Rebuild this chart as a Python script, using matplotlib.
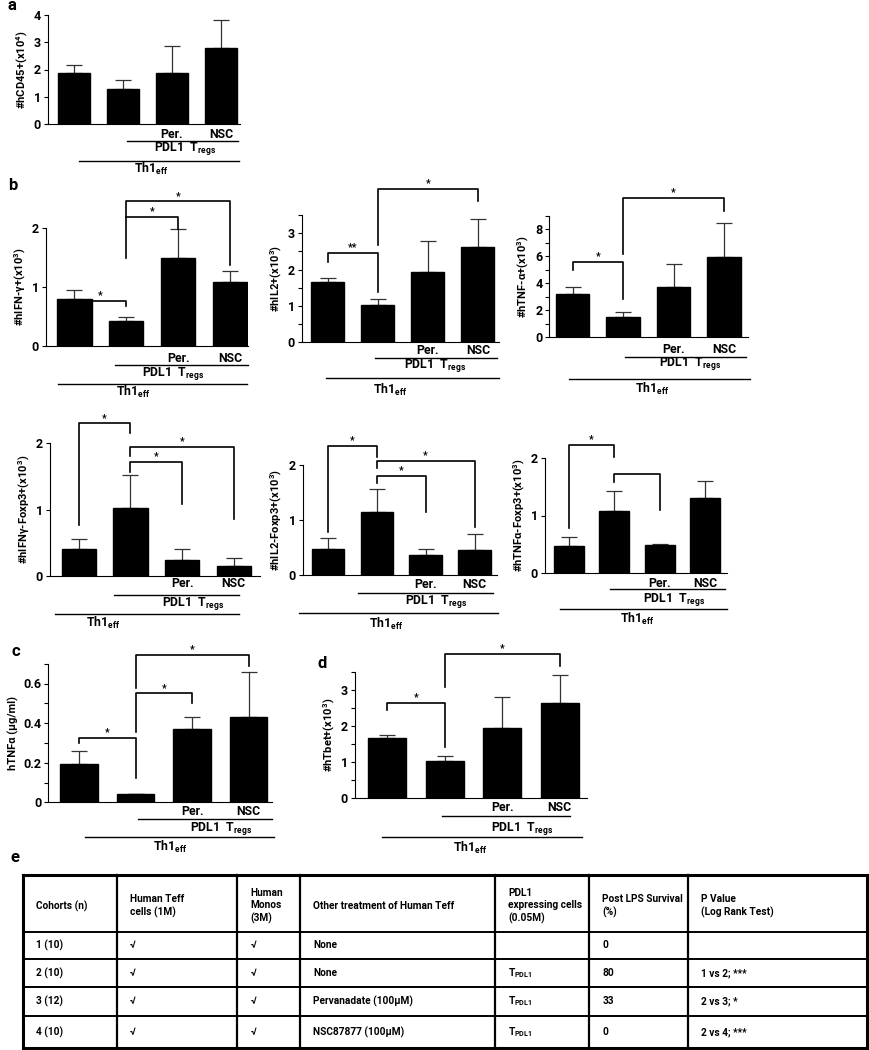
import numpy as np
import matplotlib.pyplot as plt
from matplotlib.lines import Line2D

FONT = 'Roboto'
plt.rcParams['font.family'] = [FONT, 'DejaVu Sans']
plt.rcParams['font.weight'] = 'bold'
plt.rcParams['axes.labelweight'] = 'bold'
plt.rcParams['mathtext.fontset'] = 'custom'
plt.rcParams['mathtext.rm'] = FONT + ':bold'
plt.rcParams['mathtext.bf'] = FONT + ':bold'
plt.rcParams['mathtext.it'] = FONT + ':bold'

W, H = 869, 1050

# ---- data (bar heights, upper error, significance brackets) ----
groups = ['', '', 'Per.', 'NSC']

a_vals = [1.88, 1.27, 1.88, 2.78]
a_err = [0.29, 0.36, 0.99, 1.04]

ifn_vals = [0.80, 0.43, 1.50, 1.08]
ifn_err = [0.15, 0.07, 0.48, 0.19]
il2_vals = [1.65, 1.02, 1.93, 2.63]
il2_err = [0.11, 0.15, 0.85, 0.77]
tnf_vals = [3.18, 1.53, 3.75, 5.97]
tnf_err = [0.57, 0.37, 1.68, 2.47]

ifn_fox_vals = [0.41, 1.02, 0.24, 0.14]
ifn_fox_err = [0.15, 0.50, 0.17, 0.12]
il2_fox_vals = [0.47, 1.15, 0.36, 0.45]
il2_fox_err = [0.20, 0.41, 0.12, 0.30]
tnf_fox_vals = [0.47, 1.07, 0.48, 1.30]
tnf_fox_err = [0.16, 0.36, 0.02, 0.30]

c_vals = [0.193, 0.040, 0.369, 0.432]
c_err = [0.067, 0.004, 0.061, 0.225]
d_vals = [1.65, 1.03, 1.93, 2.65]
d_err = [0.10, 0.14, 0.86, 0.77]

# brackets: (bar i, bar j, height, left leg end, right leg end, label)
ifn_br = [(0, 1, 0.76, 0.61, 0.67, '*'), (1, 2, 2.19, 1.49, 1.99, '*'), (1, 3, 2.45, 2.19, 1.37, '*')]
il2_br = [(0, 1, 2.45, 2.22, 1.39, '**'), (1, 3, 4.23, 2.68, 3.90, '*')]
tnf_br = [(0, 1, 5.6, 4.98, 2.81, '*'), (1, 3, 10.3, 6.17, 9.38, '*')]
ifn_fox_br = [(0, 1, 2.30, 0.77, 2.15, '*'), (1, 3, 1.94, 1.81, 0.85, '*'), (1, 2, 1.72, 1.57, 1.09, '*')]
il2_fox_br = [(0, 1, 2.35, 0.79, 2.15, '*'), (1, 3, 2.07, 1.94, 0.88, '*'), (1, 2, 1.80, 1.68, 1.15, '*')]
tnf_fox_br = [(0, 1, 2.24, 0.78, 2.03, '*'), (1, 2, 1.73, 1.59, 1.10, '')]
c_br = [(0, 1, 0.326, 0.30, 0.121, '*'), (1, 2, 0.55, 0.355, 0.503, '*'), (1, 3, 0.744, 0.576, 0.69, '*')]
d_br = [(0, 1, 2.63, 2.44, 1.40, '*'), (1, 3, 4.0, 3.09, 3.67, '*')]

# table
headers = ['Cohorts (n)', 'Human Teff\ncells (1M)', 'Human\nMonos\n(3M)', 'Other treatment of Human Teff',
           'PDL1\nexpressing cells\n(0.05M)', 'Post LPS Survival\n(%)', 'P Value\n(Log Rank Test)']
cohorts = ['1 (10)', '2 (10)', '3 (12)', '4 (10)']
teff = ['√', '√', '√', '√']
monos = ['√', '√', '√', '√']
treatment = ['None', 'None', 'Pervanadate (100µM)', 'NSC87877 (100µM)']
tpdl = r'T$_{\mathrm{PDL1}}$'
pdl_cells = ['', tpdl, tpdl, tpdl]
survival = ['0', '80', '33', '0']
pvalue = ['', '1 vs 2; ***', '2 vs 3; *', '2 vs 4; ***']

fig = plt.figure(figsize=(W / 100, H / 100), dpi=100)


def fx(x):
    return x / W


def fy(y):
    return 1 - y / H


def panel(box, xlim, ymax, vals, err, brackets, ylabel, major, minor, lay, labfmt=None):
    x0, yt, x1, yz = box
    ax = fig.add_axes([fx(x0), fy(yz), (x1 - x0) / W, (yz - yt) / H])
    xs = np.arange(len(vals))
    ax.bar(xs, vals, width=0.66, color='black', edgecolor='black', zorder=2)
    ax.errorbar(xs, vals, yerr=[np.zeros(len(err)), err], fmt='none', ecolor='#333333',
                elinewidth=0.9, capsize=5.5, capthick=0.9, zorder=1)
    for i, j, y, l, r, lab in brackets:
        ax.plot([i, i, j, j], [l, y, y, r], color='black', lw=1.2, clip_on=False)
        if lab:
            ax.annotate(lab, ((i + j) / 2, y), xytext=(0, 0.5), textcoords='offset points',
                        ha='center', va='bottom', fontsize=7.5, annotation_clip=False)
    ax.set_xlim(*xlim)
    ax.set_ylim(0, ymax)
    ax.set_yticks(major)
    if labfmt:
        ax.set_yticklabels([labfmt(v) for v in major])
    ax.set_yticks(minor, minor=True)
    ax.tick_params(axis='y', which='both', direction='out', length=3, width=0.8, labelsize=9, pad=2)
    ax.set_xticks(xs)
    pad = (lay['per'] - yz - 6) / 1.39
    ax.set_xticklabels(groups, fontsize=8.8)
    ax.tick_params(axis='x', length=0, pad=pad)
    for s in ['top', 'right']:
        ax.spines[s].set_visible(False)
    for s in ['left', 'bottom']:
        ax.spines[s].set_linewidth(0.8)
    ax.set_ylabel(ylabel, fontsize=8, labelpad=3)
    py, pa, pb = lay['pdl']
    ty, ta, tb = lay['th']
    fig.add_artist(Line2D([fx(pa), fx(pb)], [fy(py), fy(py)], color='black', lw=1.0))
    fig.add_artist(Line2D([fx(ta), fx(tb)], [fy(ty), fy(ty)], color='black', lw=1.0))
    fig.text(fx(lay['pdl_tx']), fy(lay['pdl_ty']), r'PDL1  T$_{\mathrm{regs}}$', ha='center', va='center', fontsize=8.8)
    fig.text(fx(lay['th_tx']), fy(lay['th_ty']), r'Th1$_{\mathrm{eff}}$', ha='center', va='center', fontsize=8.8)
    return ax


# panel a
panel((48, 15, 240, 124), (-0.53, 3.39), 4, a_vals, a_err, [], r'#hCD45+(x10$^{4}$)',
      [0, 1, 2, 3, 4], [],
      dict(per=134, pdl=(141, 127, 238), pdl_tx=185, pdl_ty=149, th=(161, 79, 239), th_tx=151, th_ty=168.5))

# panel b, top row
panel((46, 228, 248, 346), (-0.55, 3.35), 2, ifn_vals, ifn_err, ifn_br, r'#hIFN-γ+(x10$^{3}$)',
      [0, 1, 2], [],
      dict(per=358, pdl=(365, 115, 247.7), pdl_tx=173, pdl_ty=373, th=(384.3, 58.3, 246.7), th_tx=133, th_ty=391.7))
panel((302, 215.4, 499.3, 341.7), (-0.52, 3.43), 3.5, il2_vals, il2_err, il2_br, r'#hIL2+(x10$^{3}$)',
      [0, 1, 2, 3], [0.5, 1.5, 2.5, 3.5],
      dict(per=350, pdl=(358.3, 375, 496.7), pdl_tx=435, pdl_ty=366, th=(378.3, 325.7, 499.3), th_tx=390, th_ty=390))
panel((549.3, 215.8, 748.3, 337.3), (-0.46, 3.48), 9, tnf_vals, tnf_err, tnf_br, r'#hTNF-α+(x10$^{3}$)',
      [0, 2, 4, 6, 8], [1, 3, 5, 7, 9],
      dict(per=349, pdl=(356.7, 625, 745.7), pdl_tx=690, pdl_ty=364, th=(379, 569.3, 750), th_tx=652, th_ty=389))

# panel b, bottom row
panel((50, 443.3, 260, 575.7), (-0.56, 3.51), 2, ifn_fox_vals, ifn_fox_err, ifn_fox_br, r'#hIFNγ-Foxp3+(x10$^{3}$)',
      [0, 1, 2], [],
      dict(per=583.3, pdl=(595, 114.3, 239.3), pdl_tx=193, pdl_ty=603.3, th=(614, 55, 239.3), th_tx=103, th_ty=622.7))
panel((302.7, 465, 496.7, 575), (-0.51, 3.45), 2, il2_fox_vals, il2_fox_err, il2_fox_br, r'#hIL2-Foxp3+(x10$^{3}$)',
      [0, 1, 2], [],
      dict(per=584.3, pdl=(592.7, 358.3, 493.3), pdl_tx=436, pdl_ty=601.7, th=(613.3, 299.3, 498.3), th_tx=386, th_ty=624))
panel((545, 458.3, 727.3, 572.7), (-0.52, 3.49), 2, tnf_fox_vals, tnf_fox_err, tnf_fox_br, r'#hTNFα-Foxp3+(x10$^{3}$)',
      [0, 1, 2], [],
      dict(per=582.7, pdl=(589, 610, 725), pdl_tx=674, pdl_ty=599.3, th=(609.3, 560, 727.3), th_tx=637, th_ty=619.3))

# panel c, d
panel((48.3, 663.7, 272, 802.3), (-0.54, 3.41), 0.7, c_vals, c_err, c_br, 'hTNFα (µg/ml)',
      [0, 0.2, 0.4, 0.6], [0.1, 0.3, 0.5, 0.7],
      dict(per=810.7, pdl=(819, 138.3, 271.7), pdl_tx=221, pdl_ty=828.3, th=(836.7, 85, 274), th_tx=170, th_ty=847.3),
      labfmt=lambda v: '0' if v == 0 else f'{v:.1f}')
panel((355, 672, 587.3, 797.7), (-0.56, 3.48), 3.5, d_vals, d_err, d_br, r'#hTbet+(x10$^{3}$)',
      [0, 1, 2, 3], [0.5, 1.5, 2.5, 3.5],
      dict(per=806.7, pdl=(816, 441.7, 570), pdl_tx=522, pdl_ty=828.3, th=(837.3, 381.7, 581.7), th_tx=470, th_ty=848.3))

# panel letters
for lab, x, y in [('a', 8, 6), ('b', 8, 185), ('c', 12, 651), ('d', 318, 663), ('e', 10, 857)]:
    fig.text(fx(x), fy(y), lab, ha='left', va='center', fontsize=12, fontweight='bold')

# ---- table e ----
col_x = [22.7, 116.7, 237.3, 300, 495, 589.3, 688.3, 866.5]
row_y = [875, 931.7, 959.3, 986.7, 1016, 1048.3]
for k, x in enumerate(col_x):
    lw = 2.2 if k in (0, len(col_x) - 1) else 1.6
    fig.add_artist(Line2D([fx(x), fx(x)], [fy(row_y[0]), fy(row_y[-1])], color='black', lw=lw))
for k, y in enumerate(row_y):
    lw = 2.2 if k in (0, len(row_y) - 1) else 1.4
    fig.add_artist(Line2D([fx(col_x[0]), fx(col_x[-1])], [fy(y), fy(y)], color='black', lw=lw))

pad = 13
for c, htxt in enumerate(headers):
    fig.text(fx(col_x[c] + pad), fy(906), htxt, ha='left', va='center', fontsize=7.3, linespacing=1.3)
columns = [cohorts, teff, monos, treatment, pdl_cells, survival, pvalue]
for c, col in enumerate(columns):
    for r, txt in enumerate(col):
        yc = (row_y[r + 1] + row_y[r + 2]) / 2
        fig.text(fx(col_x[c] + pad), fy(yc), txt, ha='left', va='center', fontsize=7.3)

fig.savefig('out.png', dpi=100)
